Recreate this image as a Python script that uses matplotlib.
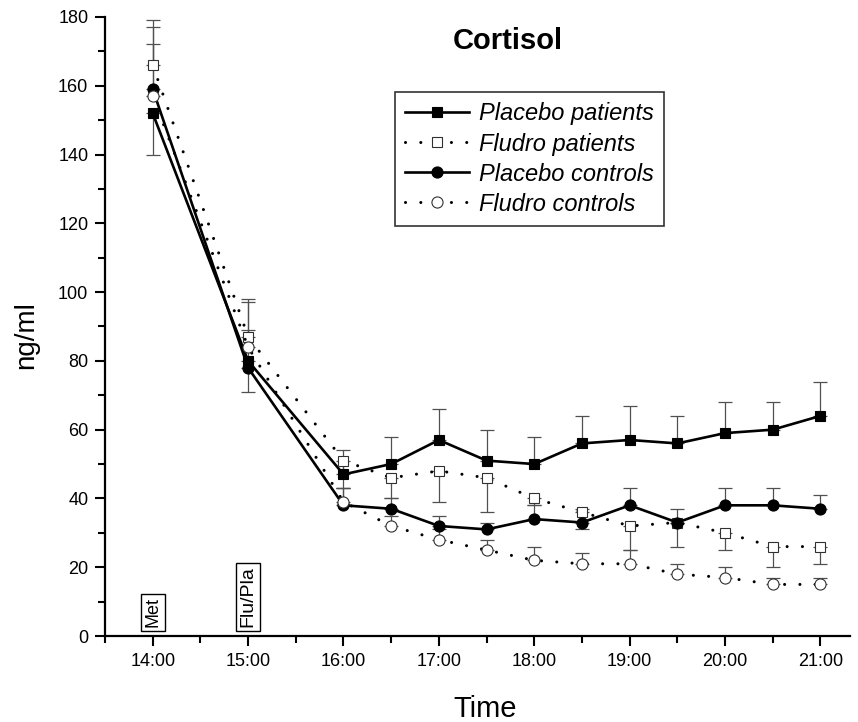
import numpy as np
import matplotlib
matplotlib.use('Agg')
import matplotlib.pyplot as plt
from matplotlib.ticker import MultipleLocator, FixedLocator

plt.rcParams['font.family'] = ['Liberation Sans', 'DejaVu Sans']

# ─── Data ────────────────────────────────────────────────────────────────────
times = [14, 15, 16, 16.5, 17, 17.5, 18, 18.5, 19, 19.5, 20, 20.5, 21]
tick_hours = [14, 15, 16, 17, 18, 19, 20, 21]
tick_labels = ['14:00', '15:00', '16:00', '17:00', '18:00', '19:00', '20:00', '21:00']

placebo_pat = [152, 80, 47, 50, 57, 51, 50, 56, 57, 56, 59, 60, 64]
placebo_pat_lo = [12, 9, 0, 0, 0, 0, 0, 0, 0, 0, 0, 0, 0]
placebo_pat_hi = [0, 0, 7, 8, 9, 9, 8, 8, 10, 8, 9, 8, 10]

fludro_pat = [166, 87, 51, 46, 48, 46, 40, 36, 32, 33, 30, 26, 26]
fludro_pat_lo = [0, 0, 8, 6, 9, 10, 2, 5, 7, 7, 5, 6, 5]
fludro_pat_hi = [13, 11, 0, 0, 0, 0, 0, 0, 0, 0, 0, 0, 0]

placebo_ctl = [159, 78, 38, 37, 32, 31, 34, 33, 38, 33, 38, 38, 37]
placebo_ctl_lo = [0] * 13
placebo_ctl_hi = [13, 11, 5, 3, 3, 2, 4, 4, 5, 4, 5, 5, 4]

fludro_ctl = [157, 84, 39, 32, 28, 25, 22, 21, 21, 18, 17, 15, 15]
fludro_ctl_lo = [0] * 13
fludro_ctl_hi = [20, 13, 4, 3, 3, 3, 4, 3, 4, 3, 3, 2, 2]

# ─── Figure ──────────────────────────────────────────────────────────────────
fig = plt.figure(figsize=(8.58, 7.22), dpi=100)
ax = fig.add_axes([0.1224, 0.1191, 0.8683, 0.8574])

DOT = (0, (0.01, 5))
series = [
    ('Placebo patients', placebo_pat, placebo_pat_lo, placebo_pat_hi, 's', 'black', '-', 7),
    ('Fludro patients', fludro_pat, fludro_pat_lo, fludro_pat_hi, 's', 'white', DOT, 7),
    ('Placebo controls', placebo_ctl, placebo_ctl_lo, placebo_ctl_hi, 'o', 'black', '-', 8),
    ('Fludro controls', fludro_ctl, fludro_ctl_lo, fludro_ctl_hi, 'o', 'white', DOT, 8),
]

handles = []
for i, (label, y, lo, hi, mk, fc, ls, ms) in enumerate(series):
    ax.errorbar(times, y, yerr=[lo, hi], fmt='none', ecolor='#505050',
                elinewidth=0.9, capsize=4.7, capthick=0.9, zorder=2 + i)
    lw = 1.9 if ls == '-' else 2.2
    ln, = ax.plot(times, y, color='black', lw=lw, ls=ls, dash_capstyle='round',
                  marker=mk, ms=ms, mfc=fc, mec='black' if fc == 'black' else '#303030',
                  mew=0.8, zorder=6 + i, label=label)
    handles.append(ln)

# ─── Axes styling ────────────────────────────────────────────────────────────
ax.set_xlim(13.5, 21.31)
ax.set_ylim(0, 180)
ax.spines['top'].set_visible(False)
ax.spines['right'].set_visible(False)
for s in ('left', 'bottom'):
    ax.spines[s].set_linewidth(1.6)

ax.xaxis.set_major_locator(FixedLocator(tick_hours))
ax.set_xticklabels(tick_labels)
ax.xaxis.set_minor_locator(MultipleLocator(0.5))
ax.yaxis.set_major_locator(MultipleLocator(20))
ax.yaxis.set_minor_locator(MultipleLocator(10))
ax.tick_params(which='major', direction='out', length=7, width=1.5, labelsize=13, pad=5)
ax.tick_params(which='minor', direction='out', length=5, width=1.5)

ax.set_xlabel('Time', fontsize=21)
ax.set_ylabel('ng/ml', fontsize=20)
ax.xaxis.set_label_coords(0.51, -0.095)
ax.yaxis.set_label_coords(-0.088, 0.486)

ax.text(0.541, 0.983, 'Cortisol', transform=ax.transAxes, ha='center', va='top',
        fontsize=21, fontweight='bold')

# ─── Event markers ───────────────────────────────────────────────────────────
box = dict(boxstyle='square,pad=0.2', fc='white', ec='black', lw=1)
ax.text(14, 2.5, 'Met', rotation=90, ha='center', va='bottom', fontsize=13, bbox=box)
ax.text(15, 2.5, 'Flu/Pla', rotation=90, ha='center', va='bottom', fontsize=14, bbox=box)

# ─── Legend ──────────────────────────────────────────────────────────────────
leg = ax.legend(handles=handles, loc='upper left', bbox_to_anchor=(0.389, 0.879),
                borderaxespad=0, fancybox=False, frameon=True, handlelength=2.7,
                prop={'style': 'italic', 'size': 17}, labelspacing=0.3,
                borderpad=0.45, handletextpad=0.4)
leg.get_frame().set_edgecolor('black')
leg.get_frame().set_linewidth(1.2)

fig.savefig('out.png', dpi=100)
